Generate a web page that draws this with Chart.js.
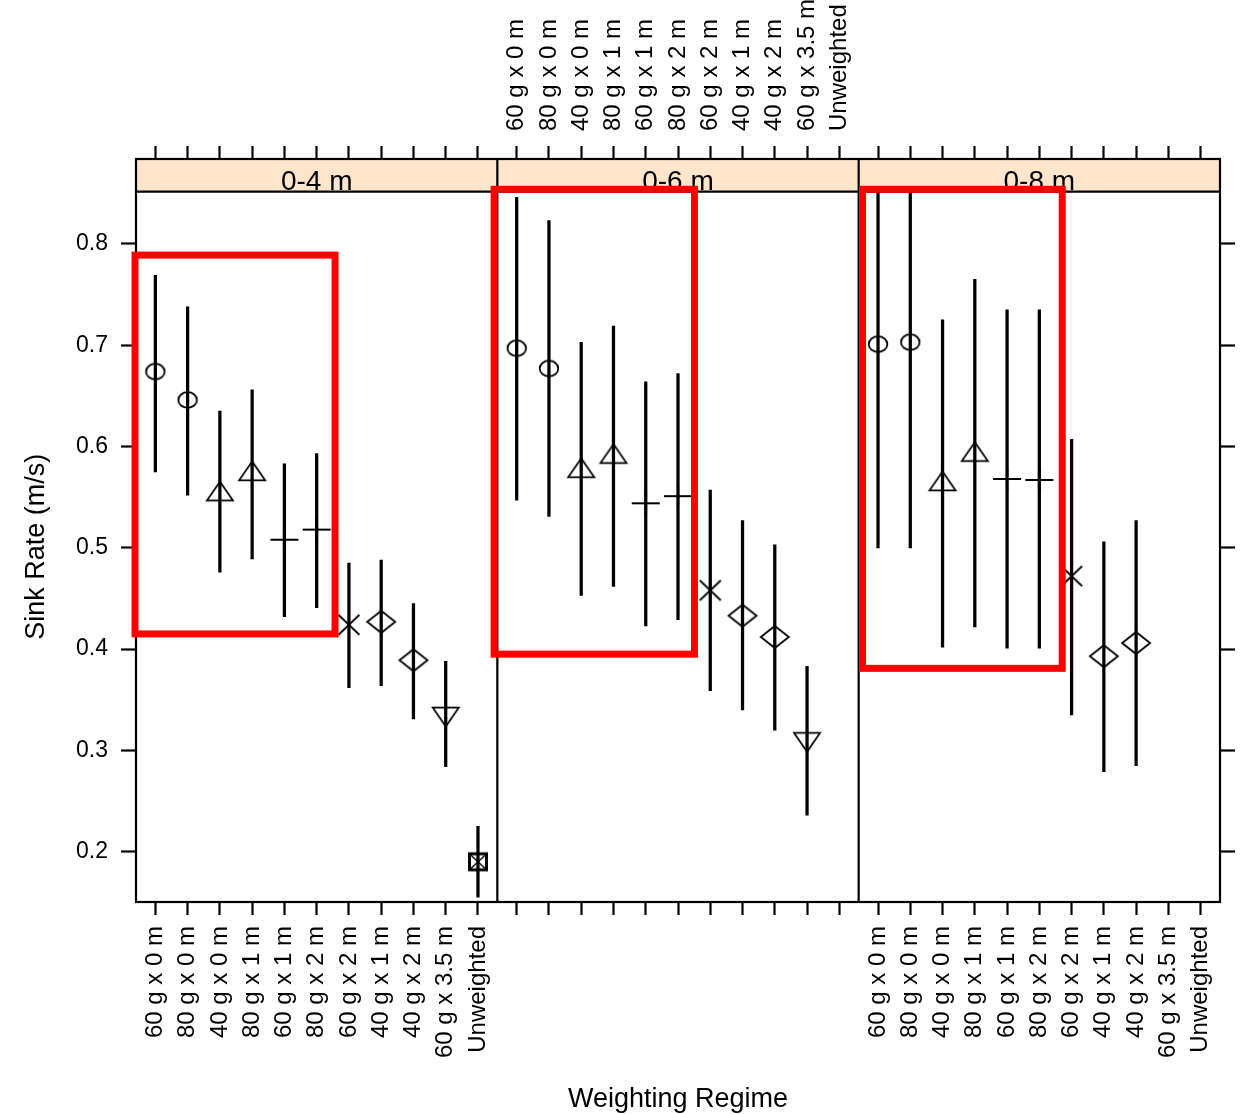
<!DOCTYPE html>
<html>
<head>
<meta charset="utf-8">
<script src="https://cdn.jsdelivr.net/npm/chart.js@4.4.1/dist/chart.umd.min.js"></script>
<style>
  html, body { margin: 0; padding: 0; background: #fff; }
  #chart { display: block; }
</style>
</head>
<body>
<canvas id="chart" width="1242" height="1114"></canvas>
<script>
// categories on the x axis of every panel
const regimes = ['60 g x 0 m', '80 g x 0 m', '40 g x 0 m', '80 g x 1 m', '60 g x 1 m',
  '80 g x 2 m', '60 g x 2 m', '40 g x 1 m', '40 g x 2 m', '60 g x 3.5 m', 'Unweighted'];
const depths = ['0-4 m', '0-6 m', '0-8 m'];
const yTicks = [0.2, 0.3, 0.4, 0.5, 0.6, 0.7, 0.8];

// sink rate means and interval ends
const mean04 = [0.674, 0.646, 0.553, 0.573, 0.508, 0.518, 0.424, 0.427, 0.389, 0.336, 0.190];
const lower04 = [0.575, 0.552, 0.476, 0.489, 0.432, 0.441, 0.362, 0.364, 0.331, 0.284, 0.155];
const upper04 = [0.769, 0.738, 0.635, 0.656, 0.583, 0.593, 0.485, 0.488, 0.445, 0.388, 0.225];

const mean06 = [0.697, 0.677, 0.576, 0.590, 0.544, 0.551, 0.458, 0.433, 0.412, 0.311];
const lower06 = [0.547, 0.531, 0.453, 0.462, 0.423, 0.429, 0.359, 0.340, 0.320, 0.236];
const upper06 = [0.846, 0.823, 0.703, 0.719, 0.664, 0.672, 0.557, 0.527, 0.503, 0.383];

const mean08 = [0.701, 0.703, 0.563, 0.592, 0.568, 0.567, 0.472, 0.393, 0.406];
const lower08 = [0.500, 0.500, 0.402, 0.422, 0.401, 0.401, 0.335, 0.279, 0.285];
const upper08 = [0.902, 0.906, 0.725, 0.765, 0.735, 0.735, 0.607, 0.506, 0.527];

// red highlight boxes (panel, x range in category units, y range in m/s)
const boxPanel = [0, 1, 2];
const boxXFrom = [0.37, 0.30, 0.52];
const boxXTo = [6.57, 6.51, 6.71];
const boxYTop = [0.789, 0.854, 0.854];
const boxYBottom = [0.415, 0.395, 0.381];

// marker kind for each regime
const regimeMarker = ['circle', 'circle', 'triangle', 'triangle', 'plus', 'plus',
  'cross', 'diamond', 'diamond', 'triangleDown', 'boxCross'];

const panelMeans = [mean04, mean06, mean08];
const panelLower = [lower04, lower06, lower08];
const panelUpper = [upper04, upper06, upper08];
const bottomAxes = ['x0', 'x1', 'x2'];
const topAxes = ['t0', 't1', 't2'];

const yMin = 0.1503;
const yMax = 0.8839;
const panelTop = 0.8516;
const FONT = '"Liberation Sans", Arial, sans-serif';
const X_LABEL_SIZE = 24;

function markerCanvas(kind) {
  const c = document.createElement('canvas');
  c.width = 32;
  c.height = 32;
  const g = c.getContext('2d');
  const cx = 16, cy = 16;
  g.strokeStyle = '#000';
  g.lineWidth = 1.8;
  g.beginPath();
  switch (kind) {
    case 'circle':
      g.ellipse(cx, cy, 9.3, 7.8, 0, 0, 2 * Math.PI);
      break;
    case 'triangle':
      g.moveTo(cx, cy - 12.5); g.lineTo(cx + 13, cy + 6.3); g.lineTo(cx - 13, cy + 6.3); g.closePath();
      break;
    case 'triangleDown':
      g.moveTo(cx, cy + 12.5); g.lineTo(cx + 13, cy - 6.3); g.lineTo(cx - 13, cy - 6.3); g.closePath();
      break;
    case 'plus':
      g.lineWidth = 2.2;
      g.moveTo(cx - 14, cy); g.lineTo(cx + 14, cy);
      g.moveTo(cx, cy - 13); g.lineTo(cx, cy + 13);
      break;
    case 'cross':
      g.moveTo(cx - 10.5, cy - 10); g.lineTo(cx + 10.5, cy + 10);
      g.moveTo(cx + 10.5, cy - 10); g.lineTo(cx - 10.5, cy + 10);
      break;
    case 'diamond':
      g.moveTo(cx, cy - 11); g.lineTo(cx + 14, cy); g.lineTo(cx, cy + 11); g.lineTo(cx - 14, cy); g.closePath();
      break;
    case 'boxCross':
      g.lineWidth = 3;
      g.strokeRect(cx - 8.5, cy - 8, 17, 16);
      g.lineWidth = 1.3;
      g.moveTo(cx - 7, cy - 6.5); g.lineTo(cx + 7, cy + 6.5);
      g.moveTo(cx + 7, cy - 6.5); g.lineTo(cx - 7, cy + 6.5);
      break;
  }
  g.stroke();
  return c;
}

const markers = regimeMarker.map(markerCanvas);

const datasets = [];
panelMeans.forEach((means, p) => {
  datasets.push({
    type: 'scatter',
    xAxisID: bottomAxes[p],
    yAxisID: 'y',
    data: means.map((m, i) => ({x: i + 1, y: m})),
    pointStyle: ctx => markers[ctx.dataIndex],
    pointRadius: 12,
    showLine: false
  });
});
panelMeans.forEach((means, p) => {
  datasets.push({
    type: 'bar',
    xAxisID: bottomAxes[p],
    yAxisID: 'y',
    data: means.map((m, i) => ({x: i + 1, y: [panelLower[p][i], panelUpper[p][i]]})),
    backgroundColor: '#000',
    borderWidth: 0,
    barThickness: 2.6,
    grouped: false
  });
});

function panelAxis(position, showLabels, size) {
  return {
    type: 'linear',
    axis: 'x',
    position: position,
    stack: position + 'Panels',
    stackWeight: 1,
    min: 0.4,
    max: 11.6,
    offset: false,
    afterBuildTicks: s => { s.ticks = regimes.map((r, i) => ({value: i + 1})); },
    afterFit: s => {
      s.height = size;
      s.paddingLeft = 0;
      s.paddingRight = 0;
    },
    border: {display: true, color: '#000', width: 2},
    grid: {offset: false, drawOnChartArea: false, drawTicks: true, tickLength: 13, tickColor: '#000', tickWidth: 2.2},
    ticks: {
      display: showLabels,
      autoSkip: false,
      minRotation: 90,
      maxRotation: 90,
      padding: position === 'top' ? 15 : 11,
      // top labels come out shifted left by one line height; put them back over their ticks
      labelOffset: position === 'top' ? X_LABEL_SIZE * 1.2 : 0,
      color: '#000',
      font: {size: X_LABEL_SIZE, family: FONT},
      callback: (v, i) => regimes[i]
    }
  };
}

const scales = {
  y: {
    type: 'linear',
    position: 'left',
    min: yMin,
    max: yMax,
    afterBuildTicks: s => { s.ticks = yTicks.map(v => ({value: v})); },
    afterFit: s => { s.width = 136; s.paddingTop = 0; s.paddingBottom = 0; },
    border: {color: '#000', width: 2},
    grid: {drawOnChartArea: false, drawTicks: true, tickLength: 15, tickColor: '#000', tickWidth: 2.2},
    ticks: {color: '#000', padding: 13, font: {size: 23, family: FONT}, callback: v => v.toFixed(1)}
  },
  y2: {
    type: 'linear',
    position: 'right',
    min: yMin,
    max: yMax,
    afterBuildTicks: s => { s.ticks = yTicks.map(v => ({value: v})); },
    afterFit: s => { s.width = 22; s.paddingTop = 0; s.paddingBottom = 0; },
    border: {color: '#000', width: 2},
    grid: {drawOnChartArea: false, drawTicks: true, tickLength: 15, tickColor: '#000', tickWidth: 2.2},
    ticks: {display: false}
  }
};
bottomAxes.forEach((id, p) => {
  scales[id] = panelAxis('bottom', p !== 1, 212);
});
scales.x1.title = {
  display: true,
  text: 'Weighting Regime',
  color: '#000',
  font: {size: 27, family: FONT, lineHeight: 1},
  padding: {top: 0, bottom: 0.5}
};
topAxes.forEach((id, p) => {
  scales[id] = panelAxis('top', p === 1, 159);
});

const latticePlugin = {
  id: 'lattice',
  afterDatasetsDraw(chart) {
    const {ctx, chartArea, scales} = chart;
    const stripBottom = scales.y.getPixelForValue(panelTop);
    ctx.save();
    bottomAxes.forEach((id, p) => {
      const s = scales[id];
      ctx.fillStyle = '#ffe5cc';
      ctx.fillRect(s.left, chartArea.top, s.right - s.left, stripBottom - chartArea.top);
      ctx.fillStyle = '#000';
      ctx.font = '28px ' + FONT;
      ctx.textAlign = 'center';
      ctx.textBaseline = 'alphabetic';
      ctx.fillText(depths[p], (s.left + s.right) / 2, stripBottom - 2);
    });
    ctx.strokeStyle = '#000';
    ctx.lineWidth = 2.2;
    ctx.strokeRect(chartArea.left, chartArea.top, chartArea.right - chartArea.left, chartArea.bottom - chartArea.top);
    ctx.beginPath();
    ctx.moveTo(chartArea.left, stripBottom);
    ctx.lineTo(chartArea.right, stripBottom);
    [1, 2].forEach(p => {
      const x = scales[bottomAxes[p]].left;
      ctx.moveTo(x, chartArea.top);
      ctx.lineTo(x, chartArea.bottom);
    });
    ctx.stroke();
    ctx.restore();
  },
  afterDraw(chart) {
    const {ctx, chartArea, scales} = chart;
    ctx.save();
    ctx.strokeStyle = '#ff0000';
    ctx.lineWidth = 7;
    boxPanel.forEach((p, i) => {
      const s = scales[bottomAxes[p]];
      const x1 = s.getPixelForValue(boxXFrom[i]);
      const x2 = s.getPixelForValue(boxXTo[i]);
      const y1 = scales.y.getPixelForValue(boxYTop[i]);
      const y2 = scales.y.getPixelForValue(boxYBottom[i]);
      ctx.strokeRect(x1, y1, x2 - x1, y2 - y1);
    });
    // y axis title, centred on the panel body
    const stripBottom = scales.y.getPixelForValue(panelTop);
    ctx.translate(43.5, (stripBottom + chartArea.bottom) / 2);
    ctx.rotate(-Math.PI / 2);
    ctx.fillStyle = '#000';
    ctx.font = '27px ' + FONT;
    ctx.textAlign = 'center';
    ctx.textBaseline = 'alphabetic';
    ctx.fillText('Sink Rate (m/s)', 0, 0);
    ctx.restore();
  }
};

new Chart(document.getElementById('chart'), {
  type: 'scatter',
  data: {datasets},
  options: {
    responsive: false,
    animation: false,
    layout: {padding: 0},
    plugins: {legend: {display: false}, tooltip: {enabled: false}},
    scales
  },
  plugins: [latticePlugin]
});
</script>
</body>
</html>
